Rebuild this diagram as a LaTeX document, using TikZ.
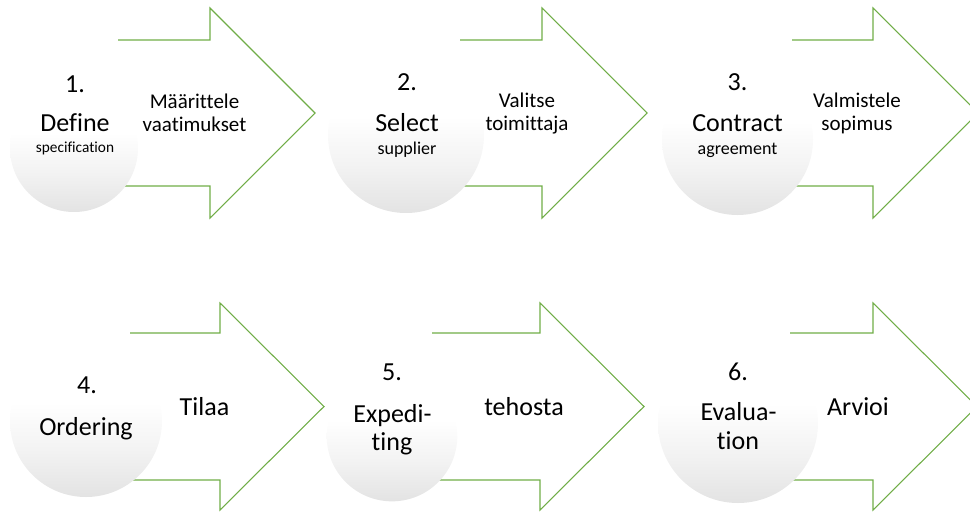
\documentclass[tikz,border=0pt]{standalone}
\usepackage{fontspec}
\setmainfont{Carlito}[Ligatures=CommonOff]
\definecolor{agreen}{HTML}{70AD47}
\pgfdeclareverticalshading{ballshade}{100bp}{color(0bp)=(black!11); color(25bp)=(black!11); color(40bp)=(black!5); color(56bp)=(white); color(100bp)=(white)}
\tikzset{
  arrowline/.style={draw=agreen, line width=0.8pt, line join=miter},
  ball/.style={circle, draw=none, inner sep=0pt, shade, shading=ballshade},
  lbl/.style={anchor=base, inner sep=0pt, text=black},
  big/.style={lbl, font=\fontsize{19.5}{22}\selectfont},
  mid/.style={lbl, font=\fontsize{15.75}{18}\selectfont},
  sml/.style={lbl, font=\fontsize{13.5}{16}\selectfont},
  tiny/.style={lbl, font=\fontsize{11.5}{14}\selectfont}
}
\begin{document}
\begin{tikzpicture}[x=0.75pt,y=-0.75pt]
\useasboundingbox (0,0) rectangle (970,511);
\clip (0,0) rectangle (970,511);
% row 1 arrows
\draw[arrowline] (118,40) -- (210,40) -- (210,8) -- (315,113) -- (210,218) -- (210,186) -- (118,186);
\draw[arrowline] (460,40) -- (542,40) -- (542,8) -- (647,113) -- (542,218) -- (542,186) -- (460,186);
\draw[arrowline] (792,40) -- (873,40) -- (873,8) -- (978,113) -- (873,218) -- (873,186) -- (792,186);
% row 2 arrows
\draw[arrowline] (130,333) -- (220,333) -- (220,303) -- (324,406.5) -- (220,510) -- (220,480) -- (130,480);
\draw[arrowline] (432,333) -- (540,333) -- (540,303) -- (644,406.5) -- (540,510) -- (540,480) -- (432,480);
\draw[arrowline] (790,333) -- (873,333) -- (873,303) -- (977,406.5) -- (873,510) -- (873,480) -- (790,480);
% circles
\node[ball, minimum size=96pt]    (c1) at (74,148) {};
\node[ball, minimum size=117pt]   (c2) at (406,135) {};
\node[ball, minimum size=113.25pt](c3) at (737.5,139.5) {};
\node[ball, minimum size=114pt]   (c4) at (86,421) {};
\node[ball, minimum size=98pt]    (c5) at (392,436) {};
\node[ball, minimum size=120pt]   (c6) at (738,423) {};
% circle texts row 1
\node[big]  (n1a) at (75,92.5) {1.};
\node[big]  (n1b) at (75,131.5) {Define};
\node[tiny] (n1c) at (75,152) {specification};
\node[big]  (n2a) at (407,90.5) {2.};
\node[big]  (n2b) at (407,131.5) {Select};
\node[sml]  (n2c) at (407,154.5) {supplier};
\node[big]  (n3a) at (737.5,90.5) {3.};
\node[big]  (n3b) at (737.5,131.5) {Contract};
\node[sml]  (n3c) at (737.5,154.5) {agreement};
% arrow texts row 1
\node[mid] (a1a) at (194.5,108) {Määrittele};
\node[mid] (a1b) at (194.5,131) {vaatimukset};
\node[mid] (a2a) at (527,107.5) {Valitse};
\node[mid] (a2b) at (527,130.5) {toimittaja};
\node[mid] (a3a) at (857,107.5) {Valmistele};
\node[mid] (a3b) at (857,130.5) {sopimus};
% circle texts row 2
\node[big] (n4a) at (87,393) {4.};
\node[big] (n4b) at (86,435.5) {Ordering};
\node[big] (n5a) at (392,380.5) {5.};
\node[big] (n5b) at (392.5,422.5) {Expedi-};
\node[big] (n5c) at (392,450) {ting};
\node[big] (n6a) at (738,380) {6.};
\node[big] (n6b) at (738.5,420) {Evalua-};
\node[big] (n6c) at (738,449.5) {tion};
% arrow texts row 2
\node[big] (a4) at (204.5,415) {Tilaa};
\node[big] (a5) at (524,415) {tehosta};
\node[big] (a6) at (858,415) {Arvioi};
\end{tikzpicture}
\end{document}
